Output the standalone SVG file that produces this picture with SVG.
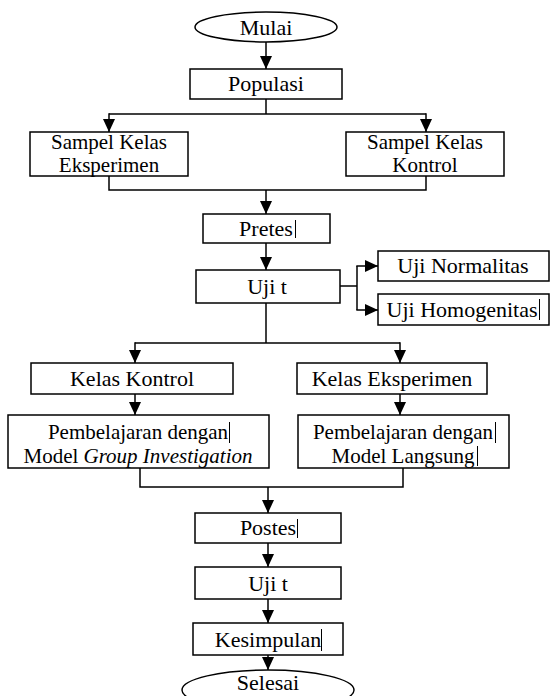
<svg xmlns="http://www.w3.org/2000/svg" width="551" height="696" viewBox="0 0 551 696">
<defs>
<marker id="ah" markerUnits="userSpaceOnUse" markerWidth="14" markerHeight="14" viewBox="0 0 14 14" refX="13" refY="7" orient="auto">
<path d="M0,1 L13,7 L0,13 Z" fill="#000"/>
</marker>
<style>
.box{fill:#fff;stroke:#000;stroke-width:1.5}
.t{font-family:"Liberation Serif","Times New Roman",serif;font-size:22px;fill:#000;text-anchor:middle}
.t2{font-size:21px}
.c{fill:none;stroke:#000;stroke-width:1.5}
.a{fill:none;stroke:#000;stroke-width:1.5;marker-end:url(#ah)}
.cur{stroke:#000;stroke-width:1}
</style>
</defs>
<rect width="551" height="696" fill="#fff"/>
<g id="connectors">
<line class="a" x1="266" y1="42" x2="266" y2="69"/>
<polyline class="c" points="266,99 266,114"/>
<polyline class="c" points="109,114 426,114"/>
<line class="a" x1="109" y1="113.3" x2="109" y2="132"/>
<line class="a" x1="426" y1="113.3" x2="426" y2="132"/>
<polyline class="c" points="109,176 109,190 426,190 426,176"/>
<line class="a" x1="266" y1="190" x2="266" y2="214"/>
<line class="a" x1="266" y1="243" x2="266" y2="270"/>
<polyline class="c" points="340,286 357,286"/>
<polyline class="c" points="357,266 357,310"/>
<line class="a" x1="356.3" y1="266" x2="378" y2="266"/>
<line class="a" x1="356.3" y1="310" x2="378" y2="310"/>
<polyline class="c" points="266,303 266,343"/>
<polyline class="c" points="135,343 400,343"/>
<line class="a" x1="135" y1="342.3" x2="135" y2="363"/>
<line class="a" x1="400" y1="342.3" x2="400" y2="363"/>
<line class="a" x1="135" y1="394" x2="135" y2="415"/>
<line class="a" x1="400" y1="394" x2="400" y2="415"/>
<polyline class="c" points="140,468 140,487 403,487 403,468"/>
<line class="a" x1="268" y1="487" x2="268" y2="513"/>
<line class="a" x1="268" y1="543" x2="268" y2="567"/>
<line class="a" x1="268" y1="599" x2="268" y2="623"/>
<line class="a" x1="268" y1="655" x2="268" y2="670"/>
</g>
<g id="mulai">
<ellipse class="box" cx="266" cy="27" rx="71" ry="15"/>
<text class="t" x="266" y="35">Mulai</text>
</g>
<g id="populasi">
<rect class="box" x="190" y="69" width="152" height="30"/>
<text class="t" x="266" y="91">Populasi</text>
</g>
<g id="sampel-eksperimen">
<rect class="box" x="30" y="132" width="158" height="44"/>
<text class="t t2" x="109" y="149">Sampel Kelas</text>
<text class="t t2" x="109" y="172">Eksperimen</text>
</g>
<g id="sampel-kontrol">
<rect class="box" x="346" y="132" width="158" height="44"/>
<text class="t t2" x="425" y="149">Sampel Kelas</text>
<text class="t t2" x="425" y="172">Kontrol</text>
</g>
<g id="pretes">
<rect class="box" x="203" y="214" width="127" height="29"/>
<text class="t" x="266" y="236">Pretes</text>
<line class="cur" x1="295.5" y1="220" x2="295.5" y2="238"/>
</g>
<g id="uji-t-1">
<rect class="box" x="196" y="270" width="144" height="33"/>
<text class="t" x="267" y="294">Uji t</text>
</g>
<g id="uji-normalitas">
<rect class="box" x="378" y="251" width="171" height="30"/>
<text class="t" x="463" y="273">Uji Normalitas</text>
</g>
<g id="uji-homogenitas">
<rect class="box" x="378" y="294" width="171" height="31"/>
<text class="t" x="462" y="317">Uji Homogenitas</text>
<line class="cur" x1="539.5" y1="299" x2="539.5" y2="320"/>
</g>
<g id="kelas-kontrol">
<rect class="box" x="31" y="363" width="202" height="31"/>
<text class="t" x="132" y="386">Kelas Kontrol</text>
</g>
<g id="kelas-eksperimen">
<rect class="box" x="297" y="363" width="190" height="31"/>
<text class="t" x="392" y="386">Kelas Eksperimen</text>
</g>
<g id="pembelajaran-gi">
<rect class="box" x="8" y="415" width="261" height="53"/>
<text class="t t2" x="138" y="439">Pembelajaran dengan</text>
<text class="t t2" x="138" y="463">Model <tspan font-style="italic">Group Investigation</tspan></text>
<line class="cur" x1="229.5" y1="422" x2="229.5" y2="443"/>
</g>
<g id="pembelajaran-langsung">
<rect class="box" x="298" y="415" width="211" height="53"/>
<text class="t t2" x="403" y="439">Pembelajaran dengan</text>
<text class="t t2" x="403" y="463">Model Langsung</text>
<line class="cur" x1="495.5" y1="422" x2="495.5" y2="443"/>
<line class="cur" x1="477.5" y1="446" x2="477.5" y2="466"/>
</g>
<g id="postes">
<rect class="box" x="195" y="513" width="146" height="30"/>
<text class="t" x="268" y="535">Postes</text>
<line class="cur" x1="297.5" y1="519" x2="297.5" y2="538"/>
</g>
<g id="uji-t-2">
<rect class="box" x="195" y="567" width="146" height="32"/>
<text class="t" x="268" y="591">Uji t</text>
</g>
<g id="kesimpulan">
<rect class="box" x="193" y="623" width="150" height="32"/>
<text class="t" x="268" y="647">Kesimpulan</text>
<line class="cur" x1="321.5" y1="629" x2="321.5" y2="651"/>
</g>
<g id="selesai">
<ellipse class="box" cx="268" cy="690" rx="86" ry="20"/>
<text class="t" x="268" y="690">Selesai</text>
</g>
</svg>
